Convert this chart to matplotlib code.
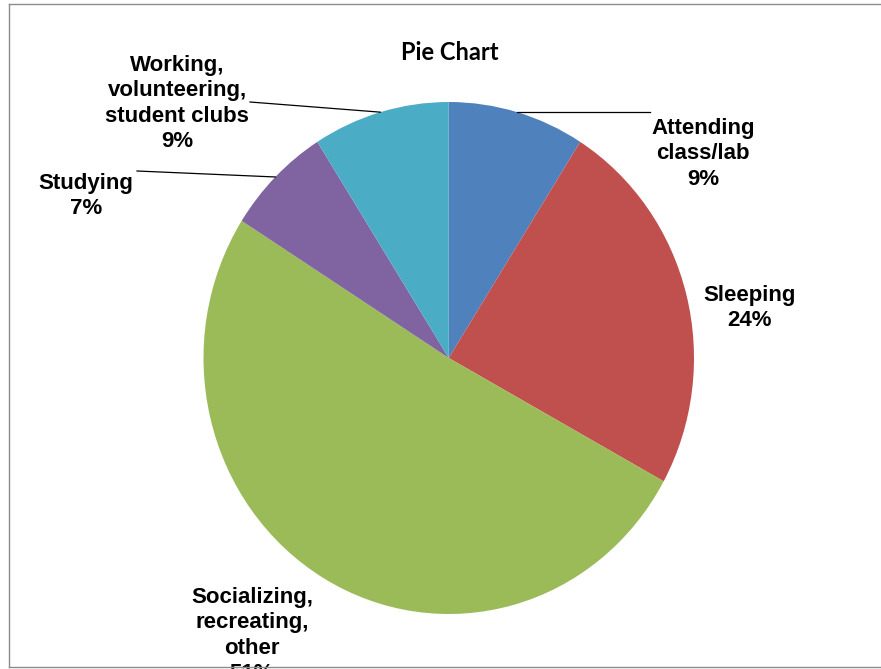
import numpy as np
import matplotlib.pyplot as plt
from matplotlib.lines import Line2D

# slice data (clockwise from 12 o'clock)
categories = ["Attending\nclass/lab", "Sleeping", "Socializing,\nrecreating,\nother",
              "Studying", "Working,\nvolunteering,\nstudent clubs"]
shares = [9, 24, 51, 7, 9]
colors = ["#4F81BD", "#C0504D", "#9BBB59", "#8064A2", "#4BACC6"]

W, H = 881, 669
fig = plt.figure(figsize=(W / 100, H / 100), dpi=100)


def fx(x):
    return x / W


def fy(y):
    return 1 - y / H


# pie is a bit taller than wide in the original, so axes aspect is left free
ax = fig.add_axes([fx(203.5), fy(614), (694 - 203.5) / W, (614 - 102) / H])
wedges, _ = ax.pie(shares, colors=colors, startangle=90, counterclock=False,
                   wedgeprops=dict(linewidth=0))
ax.set_aspect('auto')
ax.set_xlim(-1, 1)
ax.set_ylim(-1, 1)

lab_font = dict(family='Liberation Sans', weight='bold', size=16)

# label placement (pixel centre x, top y)
label_pos = [(703, 118), (750, 285), (252, 587), (86, 173), (177, 55)]
# leader line outer ends (pixels); None = no line
leader_end = [(650, None), None, None, (137, 171), (250, 102)]

for i, (w, cat, pct) in enumerate(zip(wedges, categories, shares)):
    x, y = label_pos[i]
    fig.text(fx(x), fy(y), f"{cat}\n{pct}%", ha='center', va='top',
             multialignment='center', linespacing=1.28, **lab_font)
    if leader_end[i] is not None:
        mid = np.deg2rad((w.theta1 + w.theta2) / 2)
        px, py = ax.transData.transform((np.cos(mid), np.sin(mid)))
        ex, ey = leader_end[i]
        ex_f = fx(ex)
        ey_f = py / H if ey is None else fy(ey)
        fig.add_artist(Line2D([px / W, ex_f], [py / H, ey_f], color='black', lw=0.9))

fig.text(fx(450), fy(53), "Pie Chart", family='Lato', weight='bold', size=17,
         ha='center', va='center')

# outer frame: top, left and bottom edges only
frame_col = '#8c8c8c'
fig.add_artist(Line2D([fx(9), 1], [fy(3.5), fy(3.5)], color=frame_col, lw=1))
fig.add_artist(Line2D([fx(9), fx(9)], [fy(3.5), fy(667)], color=frame_col, lw=1))
fig.add_artist(Line2D([fx(9), 1], [fy(667), fy(667)], color=frame_col, lw=1, zorder=5))

fig.savefig("out.png", dpi=100)
